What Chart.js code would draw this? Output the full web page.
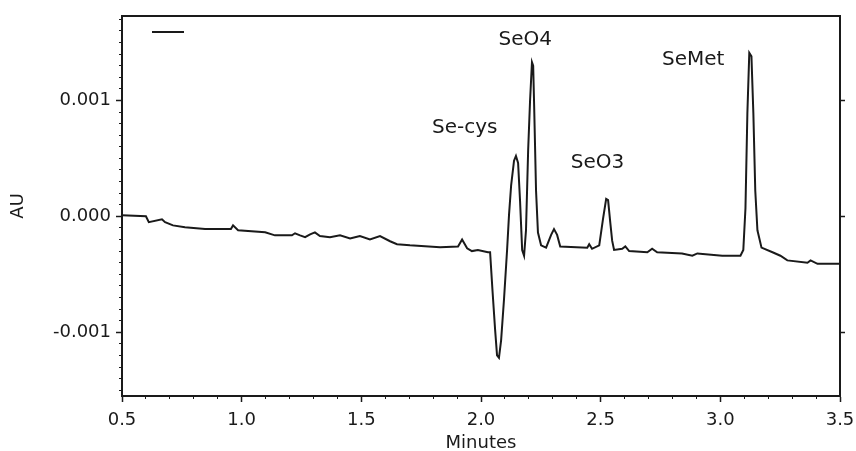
<!DOCTYPE html>
<html>
<head>
<meta charset="utf-8">
<script src="https://cdn.jsdelivr.net/npm/chart.js@4.4.1/dist/chart.umd.min.js"></script>
<style>
  html, body { margin: 0; padding: 0; background: #fff; }
  #wrap { width: 856px; height: 451px; }
</style>
</head>
<body>
<div id="wrap"><canvas id="chromChart" width="856" height="451"></canvas></div>
<script>
// Chromatogram trace
const minutes = [0.50, 0.60, 0.612, 0.667, 0.68, 0.713, 0.763, 0.847, 0.955, 0.964, 0.985, 1.098, 1.139, 1.21, 1.223,
  1.244, 1.265, 1.286, 1.306, 1.327, 1.369, 1.411, 1.453, 1.494, 1.536, 1.578, 1.62, 1.649, 1.703, 1.829, 1.904,
  1.921, 1.942, 1.962, 1.987, 2.029, 2.038, 2.048, 2.059, 2.067, 2.075, 2.084, 2.096, 2.109, 2.117, 2.126, 2.138,
  2.146, 2.155, 2.163, 2.172, 2.18, 2.188, 2.197, 2.205, 2.213, 2.218, 2.222, 2.23, 2.238, 2.251, 2.272, 2.293,
  2.305, 2.318, 2.331, 2.444, 2.452, 2.464, 2.494, 2.51, 2.523, 2.531, 2.54, 2.548, 2.556, 2.59, 2.603, 2.619,
  2.695, 2.715, 2.736, 2.84, 2.883, 2.904, 3.008, 3.084, 3.096, 3.105, 3.113, 3.121, 3.13, 3.138, 3.146, 3.155,
  3.172, 3.218, 3.251, 3.28, 3.364, 3.377, 3.406, 3.5];
const au = [0.00001, 0.0, -0.00005, -0.000025, -0.00005, -0.000078, -0.000095, -0.00011, -0.00011, -0.000078, -0.00012, -0.000138, -0.000164, -0.000164, -0.000146,
  -0.000164, -0.00018, -0.000155, -0.000138, -0.00017, -0.00018, -0.000164, -0.00019, -0.00017, -0.0002, -0.00017, -0.000215, -0.00024, -0.00025, -0.000267, -0.00026,
  -0.0002, -0.000276, -0.0003, -0.00029, -0.00031, -0.00031, -0.00064, -0.00098, -0.0012, -0.00122, -0.00107, -0.00072, -0.00029, 0.00001, 0.00027, 0.00048,
  0.00052, 0.00046, 0.00014, -0.00029, -0.00034, -0.00012, 0.00057, 0.001, 0.00133, 0.0013, 0.00096, 0.00022, -0.00014, -0.00025, -0.00027, -0.00016,
  -0.00011, -0.00016, -0.00026, -0.00027, -0.00024, -0.00028, -0.00025, -0.00002, 0.00015, 0.00014, -0.00005, -0.00021, -0.00029, -0.00028, -0.00026, -0.0003,
  -0.00031, -0.00028, -0.00031, -0.00032, -0.00034, -0.00032, -0.00034, -0.00034, -0.00029, 0.00007, 0.00089, 0.00141, 0.00138, 0.00089, 0.00022, -0.00012,
  -0.00027, -0.00031, -0.00034, -0.00038, -0.0004, -0.00038, -0.00041, -0.00041];

// Peak names and where their labels sit
const peakNames = ["Se-cys", "SeO4", "SeO3", "SeMet"];
const peakTimes = [1.795, 2.073, 2.375, 2.756];
const peakLevels = [0.00076, 0.00152, 0.000465, 0.00135];

// Axis ticks
const xMajor = [0.5, 1.0, 1.5, 2.0, 2.5, 3.0, 3.5];
const xTickLabels = ["0.5", "1.0", "1.5", "2.0", "2.5", "3.0", "3.5"];
const yMajor = [-0.001, 0, 0.001];
const yTickLabels = ["-0.001", "0.000", "0.001"];

const xMinor = [];
for (let i = 5; i <= 35; i++) xMinor.push(i / 10);
const yMinor = [];
for (let i = -15; i <= 17; i++) yMinor.push(i / 10000);

const font = { family: "'DejaVu Sans', sans-serif", size: 18 };
const ink = "#1a1a1a";

function setTicks(list) {
    return scale => { scale.ticks = list.map(v => ({ value: v })); };
}
function labelFrom(values, labels) {
    return v => {
        const i = values.findIndex(m => Math.abs(m - v) < 1e-9);
        return i >= 0 ? labels[i] : "";
    };
}

// Peak names drawn at data positions
const peakLabels = {
    id: "peakLabels",
    afterDatasetsDraw(chart) {
        const { ctx, scales } = chart;
        ctx.save();
        ctx.font = "20px 'DejaVu Sans', sans-serif";
        ctx.fillStyle = ink;
        ctx.textAlign = "left";
        ctx.textBaseline = "middle";
        peakNames.forEach((name, i) => {
            ctx.fillText(name, scales.x.getPixelForValue(peakTimes[i]), scales.y.getPixelForValue(peakLevels[i]));
        });
        ctx.restore();
    }
};

const ctx = document.getElementById("chromChart").getContext("2d");
new Chart(ctx, {
    type: "line",
    data: {
        datasets: [{
            label: " ",
            data: minutes.map((t, i) => ({ x: t, y: au[i] })),
            borderColor: ink,
            borderWidth: 2,
            pointRadius: 0,
            tension: 0,
            fill: false
        }]
    },
    options: {
        responsive: false,
        animation: false,
        layout: { padding: { top: 15, left: 0, right: 0, bottom: 0 } },
        plugins: {
            legend: {
                position: "chartArea",
                align: "start",
                labels: {
                    usePointStyle: true,
                    pointStyle: "line",
                    pointStyleWidth: 32,
                    boxHeight: 2,
                    padding: 30,
                    font: { family: "'DejaVu Sans', sans-serif", size: 4 },
                    color: ink
                }
            },
            tooltip: { enabled: false }
        },
        scales: {
            x: {
                type: "linear",
                position: "bottom",
                weight: 1,
                min: 0.5,
                max: 3.5,
                afterBuildTicks: setTicks(xMajor),
                afterFit: s => { s.height = 55; s.paddingLeft = 0; s.paddingRight = 0; },
                ticks: { callback: labelFrom(xMajor, xTickLabels), font: font, color: ink, padding: 8, maxRotation: 0 },
                grid: { drawOnChartArea: false, tickLength: 6, tickWidth: 1.5, tickColor: ink },
                border: { color: ink, width: 2 },
                title: { display: true, text: "Minutes", font: font, color: ink, padding: { top: 0, bottom: -3 } }
            },
            xMinor: {
                type: "linear",
                position: "bottom",
                weight: 0,
                min: 0.5,
                max: 3.5,
                afterBuildTicks: setTicks(xMinor),
                afterFit: s => { s.height = 0; s.paddingLeft = 0; s.paddingRight = 0; },
                ticks: { display: false },
                grid: { drawOnChartArea: false, tickLength: 3, tickWidth: 1, tickColor: ink },
                border: { display: false }
            },
            xTop: {
                type: "linear",
                position: "top",
                min: 0.5,
                max: 3.5,
                afterFit: s => { s.height = 0; s.paddingLeft = 0; s.paddingRight = 0; },
                ticks: { display: false },
                grid: { display: false },
                border: { color: ink, width: 2 }
            },
            y: {
                type: "linear",
                position: "left",
                weight: 1,
                min: -0.00155,
                max: 0.00173,
                afterBuildTicks: setTicks(yMajor),
                afterFit: s => { s.width = 122; },
                ticks: { callback: labelFrom(yMajor, yTickLabels), font: font, color: ink, padding: 5 },
                grid: { drawOnChartArea: false, tickLength: 6, tickWidth: 1.5, tickColor: ink },
                border: { color: ink, width: 2 },
                title: { display: true, text: "AU", font: font, color: ink, padding: { top: 8, bottom: 0 } }
            },
            yMinor: {
                type: "linear",
                position: "left",
                weight: 0,
                min: -0.00155,
                max: 0.00173,
                afterBuildTicks: setTicks(yMinor),
                afterFit: s => { s.width = 0; },
                ticks: { display: false },
                grid: { drawOnChartArea: false, tickLength: 3, tickWidth: 1, tickColor: ink },
                border: { display: false }
            },
            yRight: {
                type: "linear",
                position: "right",
                min: -0.00155,
                max: 0.00173,
                afterBuildTicks: setTicks(yMajor),
                afterFit: s => { s.width = 16; },
                ticks: { display: false },
                grid: { drawOnChartArea: false, tickLength: 5, tickWidth: 1.5, tickColor: ink },
                border: { color: ink, width: 2 }
            }
        }
    },
    plugins: [peakLabels]
});
</script>
</body>
</html>
